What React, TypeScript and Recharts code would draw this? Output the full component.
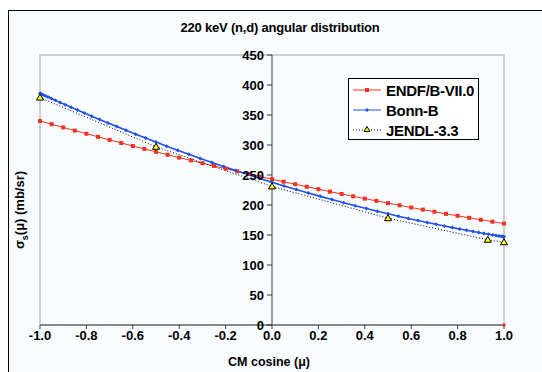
import React from 'react';
import { ComposedChart, Line, XAxis, YAxis, ReferenceLine, ReferenceArea, Legend } from 'recharts';

// ENDF/B-VII.0, every 0.05 in mu
const endfMu = [-1, -0.95, -0.9, -0.85, -0.8, -0.75, -0.7, -0.65, -0.6, -0.55, -0.5, -0.45, -0.4, -0.35, -0.3, -0.25, -0.2, -0.15, -0.1, -0.05, 0,
  0.05, 0.1, 0.15, 0.2, 0.25, 0.3, 0.35, 0.4, 0.45, 0.5, 0.55, 0.6, 0.65, 0.7, 0.75, 0.8, 0.85, 0.9, 0.95, 1];
const endfSigma = [340.0, 334.6, 329.3, 324.0, 318.8, 313.6, 308.5, 303.4, 298.4, 293.5, 288.6, 283.8, 279.0, 274.3, 269.7, 265.1, 260.6, 256.1, 251.7, 247.3, 243.0,
  238.8, 234.6, 230.4, 226.4, 222.3, 218.4, 214.5, 210.6, 206.9, 203.1, 199.5, 195.8, 192.3, 188.8, 185.3, 182.0, 178.6, 175.4, 172.2, 169.0];

// Bonn-B, points crowd toward the ends
const bonnMu = [-1, -0.9986, -0.9945, -0.9877, -0.9781, -0.9659, -0.9511, -0.9336, -0.9135, -0.891, -0.866, -0.8387, -0.809, -0.7771, -0.7431, -0.7071,
  -0.6691, -0.6293, -0.5878, -0.5446, -0.5, -0.454, -0.4067, -0.3584, -0.309, -0.2588, -0.2079, -0.1564, -0.1045, -0.0523, 0,
  0.0523, 0.1045, 0.1564, 0.2079, 0.2588, 0.309, 0.3584, 0.4067, 0.454, 0.5, 0.5446, 0.5878, 0.6293, 0.6691,
  0.7071, 0.7431, 0.7771, 0.809, 0.8387, 0.866, 0.891, 0.9135, 0.9336, 0.9511, 0.9659, 0.9781, 0.9877, 0.9945, 0.9986, 1];
const bonnSigma = [386.0, 385.8, 385.0, 383.8, 382.2, 380.0, 377.4, 374.4, 370.9, 367.1, 362.9, 358.3, 353.3, 348.1, 342.5, 336.8,
  330.7, 324.5, 318.1, 311.5, 304.9, 298.1, 291.3, 284.5, 277.6, 270.8, 264.1, 257.4, 250.8, 244.3, 238.0,
  231.8, 225.8, 220.0, 214.4, 209.0, 203.8, 198.8, 194.1, 189.6, 185.4, 181.4, 177.6, 174.1, 170.8,
  167.8, 164.9, 162.3, 160.0, 157.8, 155.9, 154.2, 152.6, 151.3, 150.1, 149.2, 148.4, 147.8, 147.3, 147.1, 147.0];

// JENDL-3.3
const jendlMu = [-1, -0.5, 0, 0.5, 0.93, 1];
const jendlSigma = [379, 297, 231, 178, 142, 138];

// stray ENDF point on the axis
const strayMu = [1];
const straySigma = [0];

const xTicks = [-1, -0.8, -0.6, -0.4, -0.2, 0, 0.2, 0.4, 0.6, 0.8, 1];
const yTicks = [0, 50, 100, 150, 200, 250, 300, 350, 400, 450];

const zip = (xs: number[], ys: number[]) => xs.map((x, i) => ({ x, y: ys[i] }));
const endfData = zip(endfMu, endfSigma);
const bonnData = zip(bonnMu, bonnSigma);
const jendlData = zip(jendlMu, jendlSigma);
const strayData = zip(strayMu, straySigma);

const FONT = '"Liberation Sans", Arial, sans-serif';
const RED = '#f0321e';
const BLUE = '#2150e6';
const PLOT_LEFT = 31; // svg coords
const HALF_PLOT = 232; // y axis sits at mu = 0

const Square = (p: any) => <rect key={p.index} x={p.cx - 2} y={p.cy - 2} width={4} height={4} fill={RED} />;
const Diamond = (p: any) => (
  <polygon key={p.index} points={`${p.cx},${p.cy - 2} ${p.cx + 2},${p.cy} ${p.cx},${p.cy + 2} ${p.cx - 2},${p.cy}`} fill={BLUE} />
);
const Triangle = (p: any) => (
  <polygon key={p.index} points={`${p.cx},${p.cy - 3.5} ${p.cx + 3.5},${p.cy + 2.5} ${p.cx - 3.5},${p.cy + 2.5}`} fill="#ffff00" stroke="#000" strokeWidth={1} />
);
const Dot = (p: any) => <circle key={p.index} cx={p.cx} cy={p.cy} r={1.8} fill={RED} />;

const CenterYTick = (props: any) => {
  const { y, payload } = props;
  const cx = PLOT_LEFT + HALF_PLOT;
  return (
    <g>
      <line x1={cx - 5} y1={y} x2={cx} y2={y} stroke="#333" />
      <text x={cx - 8} y={y} textAnchor="end" dominantBaseline="central" fontFamily={FONT} fontWeight="bold" fontSize={13} fill="#000">
        {payload.value}
      </text>
    </g>
  );
};

const legendItems = [
  { name: 'ENDF/B-VII.0', color: RED, dash: undefined, marker: 'square' },
  { name: 'Bonn-B', color: BLUE, dash: undefined, marker: 'diamond' },
  { name: 'JENDL-3.3', color: '#000', dash: '1 2', marker: 'triangle' },
];

const LegendBox = () => (
  <div style={{ border: '1px solid #000', background: '#fff', boxSizing: 'border-box', width: 131, height: 62, paddingTop: 1 }}>
    {legendItems.map((it) => (
      <div key={it.name} style={{ display: 'flex', alignItems: 'center', height: 20 }}>
        <svg width={34} height={12} style={{ marginLeft: 3 }}>
          <line x1={1} y1={6} x2={29} y2={6} stroke={it.color} strokeWidth={1} strokeDasharray={it.dash} />
          {it.marker === 'square' && <rect x={13} y={4} width={4} height={4} fill={RED} />}
          {it.marker === 'diamond' && <polygon points="15,4 17,6 15,8 13,6" fill={BLUE} />}
          {it.marker === 'triangle' && <polygon points="15,2.5 18,7.5 12,7.5" fill="#ffff00" stroke="#000" strokeWidth={1} />}
        </svg>
        <span style={{ fontFamily: FONT, fontWeight: 'bold', fontSize: 15, letterSpacing: -0.3, color: '#000' }}>{it.name}</span>
      </div>
    ))}
  </div>
);

export default function App() {
  return (
    <div style={{ position: 'fixed', left: 0, top: 0, width: 542, height: 372, overflow: 'hidden', background: '#fff' }}>
      <div style={{ position: 'absolute', left: 8, top: 10, width: 560, height: 380, border: '1px solid #000', background: '#f8fcff' }}>
        <div style={{ position: 'absolute', left: 0, top: 10, width: 542, textAlign: 'center', fontFamily: FONT, fontWeight: 'bold', fontSize: 13, letterSpacing: -0.2, lineHeight: '14px' }}>
          220 keV (n,d) angular distribution
        </div>
        <div style={{ position: 'absolute', left: 11 - 60, top: 199 - 8, width: 120, height: 16, textAlign: 'center', transform: 'rotate(-90deg)', fontFamily: FONT, fontWeight: 'bold', fontSize: 13, lineHeight: '16px' }}>
          σ<sub style={{ fontSize: 9 }}>s</sub>(μ) (mb/sr)
        </div>
        <div style={{ position: 'absolute', left: 0, top: 344, width: 520, textAlign: 'center', fontFamily: FONT, fontWeight: 'bold', fontSize: 12.5, lineHeight: '14px' }}>
          CM cosine (μ)
        </div>
        <ComposedChart width={540} height={370} margin={{ top: 44, right: 45, bottom: 16, left: PLOT_LEFT - 1 }}>
          <ReferenceArea x1={-1} x2={1} y1={0} y2={450} fill="none" stroke="#c0c0c0" strokeWidth={1.5} ifOverflow="visible" />
          <XAxis
            dataKey="x"
            type="number"
            domain={[-1, 1]}
            ticks={xTicks}
            tickFormatter={(v: number) => v.toFixed(1)}
            height={40}
            allowDuplicatedCategory={false}
            stroke="#404040"
            tickSize={4}
            tick={{ fontFamily: FONT, fontWeight: 'bold', fontSize: 13, fill: '#000' }}
          />
          <YAxis
            type="number"
            domain={[0, 450]}
            ticks={yTicks}
            width={1}
            axisLine={false}
            tickLine={false}
            interval={0}
            tick={(p: any) => <CenterYTick key={p.index} {...p} />}
          />
          <ReferenceLine x={0} stroke="#404040" strokeWidth={1} />
          <Line data={endfData} dataKey="y" name="ENDF/B-VII.0" stroke={RED} strokeWidth={1} dot={Square} isAnimationActive={false} legendType="none" />
          <Line data={bonnData} dataKey="y" name="Bonn-B" stroke={BLUE} strokeWidth={1.6} dot={Diamond} isAnimationActive={false} legendType="none" />
          <Line data={jendlData} dataKey="y" name="JENDL-3.3" stroke="#000" strokeWidth={1} strokeDasharray="1 2" dot={Triangle} isAnimationActive={false} legendType="none" />
          <Line data={strayData} dataKey="y" name="stray" stroke="none" dot={Dot} isAnimationActive={false} legendType="none" />
          <Legend
            layout="horizontal"
            verticalAlign="middle"
            align="center"
            content={() => <LegendBox />}
            wrapperStyle={{ left: 339, top: 67, width: 131, height: 62 }}
          />
        </ComposedChart>
      </div>
    </div>
  );
}
